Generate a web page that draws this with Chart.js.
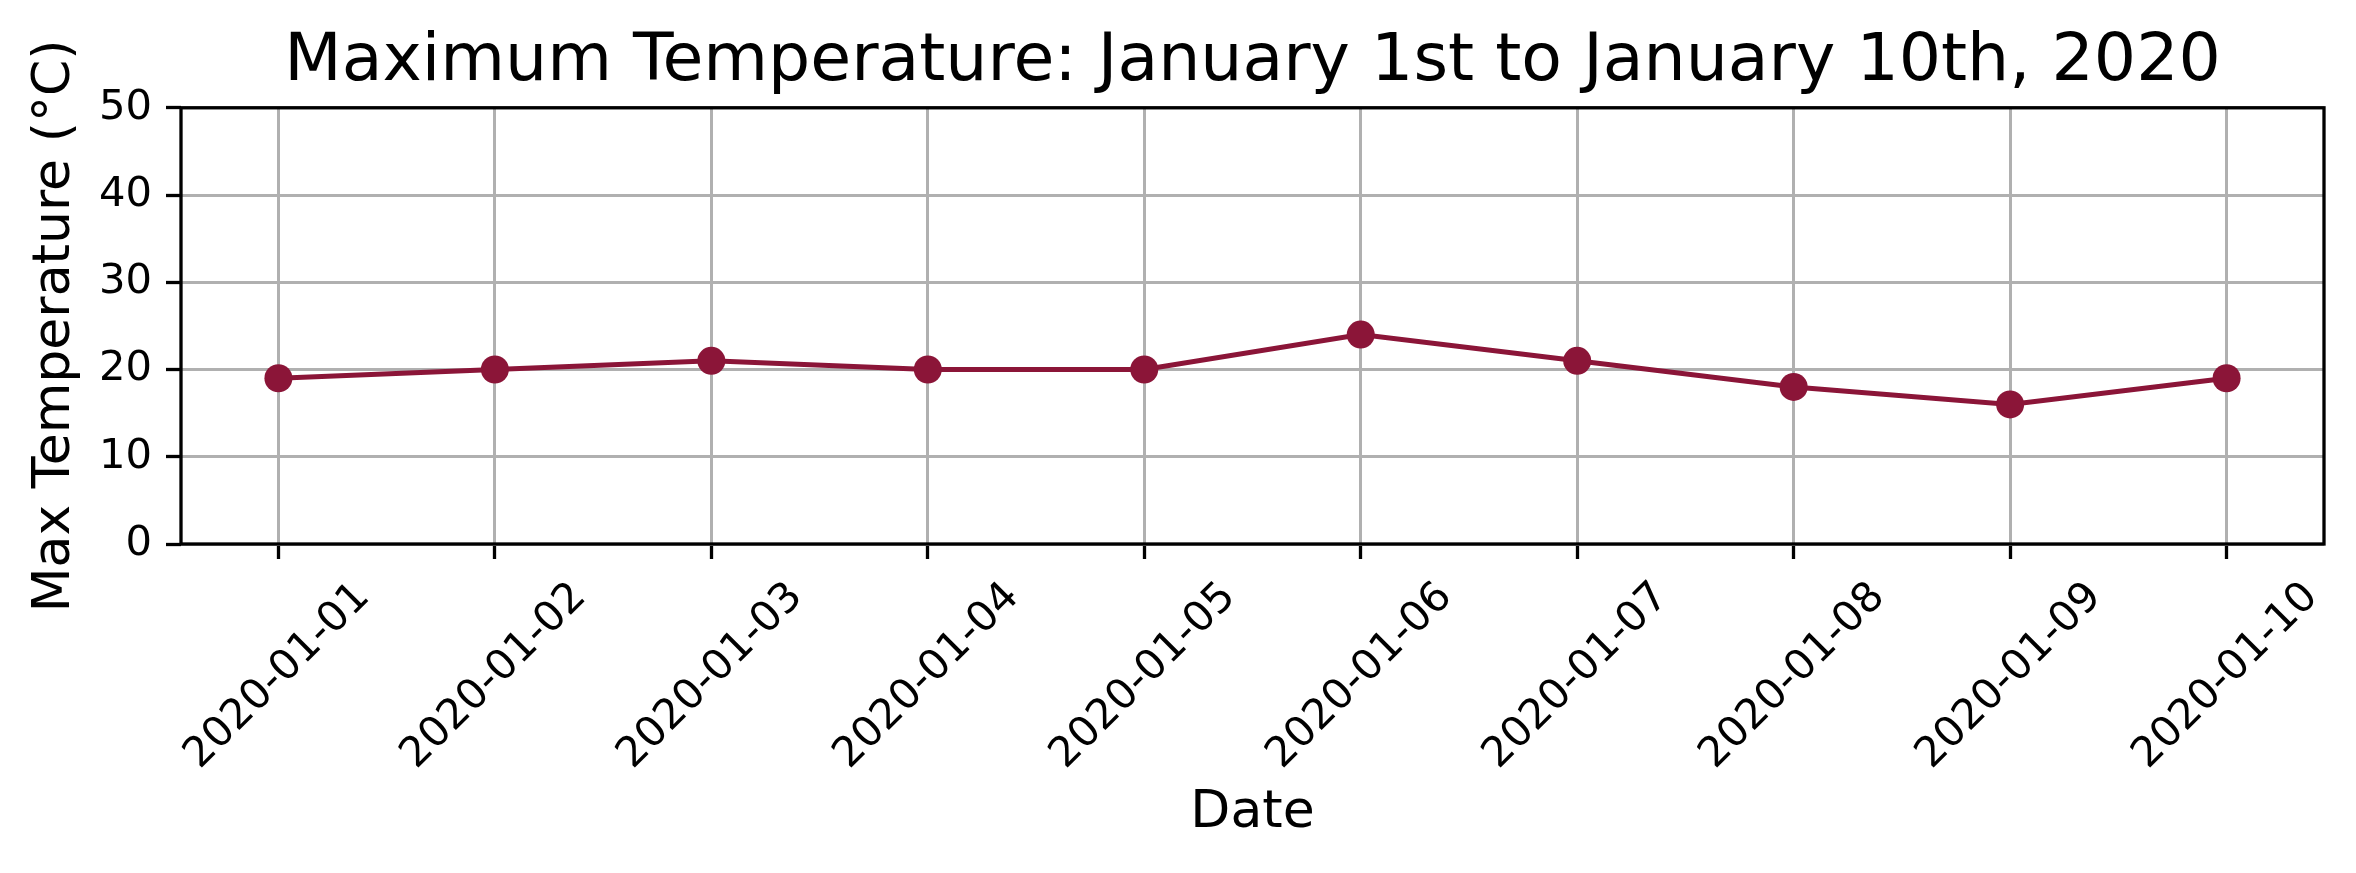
<!DOCTYPE html>
<html>
<head>
<meta charset="utf-8">
<script src="https://cdn.jsdelivr.net/npm/chart.js@4/dist/chart.umd.min.js"></script>
<style>
    html, body { margin: 0; padding: 0; background: #ffffff; }
    #wrap { width: 2356px; height: 873px; }
</style>
</head>
<body>
<div id="wrap"><canvas id="chart" width="2356" height="873"></canvas></div>
<script>
(function () {
    'use strict';

    // data
    var dates = ['2020-01-01', '2020-01-02', '2020-01-03', '2020-01-04', '2020-01-05',
                 '2020-01-06', '2020-01-07', '2020-01-08', '2020-01-09', '2020-01-10'];
    var maxTemps = [19, 20, 21, 20, 20, 24, 21, 18, 16, 19];
    var yTicks = [0, 10, 20, 30, 40, 50];

    var FONT = "'DejaVu Sans', sans-serif";
    var LINE = '#8b1538';

    // matplotlib style box round the plot area
    var frame = {
        id: 'frame',
        afterDatasetsDraw: function (chart) {
            var a = chart.chartArea, ctx = chart.ctx;
            ctx.save();
            ctx.strokeStyle = '#000000';
            ctx.lineWidth = 3.3;
            ctx.strokeRect(a.left, a.top, a.right - a.left, a.bottom - a.top);
            ctx.restore();
        }
    };

    new Chart(document.getElementById('chart'), {
        type: 'line',
        data: {
            datasets: [{
                data: maxTemps.map(function (v, i) { return { x: i, y: v }; }),
                borderColor: LINE,
                backgroundColor: LINE,
                borderWidth: 5,
                pointRadius: 14,
                pointBorderWidth: 0,
                pointBackgroundColor: LINE,
                tension: 0,
                fill: false
            }]
        },
        options: {
            responsive: false,
            animation: false,
            devicePixelRatio: 1,
            layout: { padding: { left: 0, right: 32, top: 0, bottom: 0 } },
            plugins: {
                legend: { display: false },
                tooltip: { enabled: false },
                title: {
                    display: true,
                    fullSize: false,
                    text: 'Maximum Temperature: January 1st to January 10th, 2020',
                    color: '#000000',
                    font: { family: FONT, size: 66.5, weight: 'normal' },
                    padding: { top: 23, bottom: 5 }
                }
            },
            scales: {
                x: {
                    type: 'linear',
                    min: -0.45,
                    max: 9.45,
                    afterBuildTicks: function (axis) {
                        axis.ticks = dates.map(function (d, i) { return { value: i }; });
                    },
                    afterFit: function (axis) { axis.height = 329; },
                    grid: {
                        color: '#b0b0b0',
                        lineWidth: 3,
                        tickColor: '#000000',
                        tickWidth: 3.3,
                        tickLength: 15
                    },
                    border: { display: false },
                    ticks: {
                        autoSkip: false,
                        minRotation: 45,
                        maxRotation: 45,
                        padding: 14,
                        labelOffset: 85,
                        color: '#000000',
                        font: { family: FONT, size: 41.7 },
                        callback: function (v) { return dates[v]; }
                    },
                    title: {
                        display: true,
                        text: 'Date',
                        color: '#000000',
                        font: { family: FONT, size: 52 },
                        padding: { top: 0, bottom: 28 }
                    }
                },
                y: {
                    min: 0,
                    max: 50,
                    afterBuildTicks: function (axis) {
                        axis.ticks = yTicks.map(function (v) { return { value: v }; });
                    },
                    afterFit: function (axis) { axis.width = 181; },
                    grid: {
                        color: '#b0b0b0',
                        lineWidth: 3,
                        tickColor: '#000000',
                        tickWidth: 3.3,
                        tickLength: 15
                    },
                    border: { display: false },
                    ticks: {
                        padding: 14,
                        color: '#000000',
                        font: { family: FONT, size: 41.7 }
                    },
                    title: {
                        display: true,
                        text: 'Max Temperature (°C)',
                        color: '#000000',
                        font: { family: FONT, size: 52 },
                        padding: { top: 24, bottom: 0 }
                    }
                }
            }
        },
        plugins: [frame]
    });
})();
</script>
</body>
</html>
